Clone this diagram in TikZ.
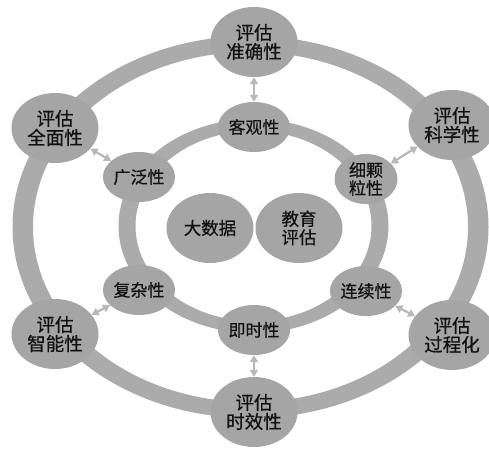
\documentclass[tikz,border=0pt]{standalone}
\usepackage{fontspec}
\newfontfamily\cjk[FakeBold=0.6]{Noto Sans CJK SC}
\usetikzlibrary{shapes.geometric,arrows.meta}
\definecolor{ringgray}{HTML}{ABABAB}
\definecolor{nodegray}{HTML}{A5A5A5}
\definecolor{arrgray}{HTML}{B8B8B8}
\definecolor{txt}{HTML}{111111}
\tikzset{
  bignode/.style={ellipse,fill=nodegray,draw=none,inner sep=0pt,minimum width=87pt,minimum height=70pt,align=center,text=txt,font=\cjk\fontsize{18.5}{19}\selectfont},
  smallnode/.style={ellipse,fill=nodegray,draw=none,inner sep=0pt,minimum width=63pt,minimum height=50pt,align=center,text=txt,font=\cjk\fontsize{17}{18}\selectfont},
  centernode/.style={ellipse,fill=nodegray,draw=none,inner sep=0pt,minimum width=87pt,minimum height=70pt,align=center,text=txt,font=\cjk\fontsize{17.5}{18.5}\selectfont},
  ringband/.style={fill=ringgray,even odd rule,draw=none},
  arr/.style={draw=arrgray,line width=2.2pt,{Triangle[width=8pt,length=7pt]}-{Triangle[width=8pt,length=7pt]}}
}
\begin{document}
\begin{tikzpicture}[x=1pt,y=-1pt]
\useasboundingbox (0,0) rectangle (489,448);
\clip (0,0) rectangle (489,448);
% rings
\path[ringband] (250.5,227) ellipse [x radius=238,y radius=191] (250.5,227) ellipse [x radius=217.5,y radius=175];
\path[ringband] (253.5,226) ellipse [x radius=135,y radius=107] (253.5,226) ellipse [x radius=118,y radius=95];
% outer nodes
\node[bignode] (zq) at (254,42) {评估\\准确性};
\node[bignode] (qm) at (55,128) {评估\\全面性};
\node[bignode] (kx) at (452,125) {评估\\科学性};
\node[bignode] (zn) at (55,334) {评估\\智能性};
\node[bignode] (gc) at (452,335) {评估\\过程化};
\node[bignode] (sx) at (254,412) {评估\\时效性};
% inner nodes
\node[smallnode] (kg) at (254,127) {客观性};
\node[smallnode] (gf) at (139,177) {广泛性};
\node[smallnode] (xk) at (366,179) {细颗\\粒性};
\node[smallnode] (fz) at (139,290) {复杂性};
\node[smallnode] (lx) at (366,291) {连续性};
\node[smallnode] (js) at (254,330) {即时性};
% center
\node[centernode] (dsj) at (210,228) {大数据};
\node[centernode] (jy) at (299,228) {教育\\评估};
% arrows
\draw[arr] (zq) -- (kg);
\draw[arr] (qm) -- (gf);
\draw[arr] (kx) -- (xk);
\draw[arr] (zn) -- (fz);
\draw[arr] (gc) -- (lx);
\draw[arr] (sx) -- (js);
\end{tikzpicture}
\end{document}
